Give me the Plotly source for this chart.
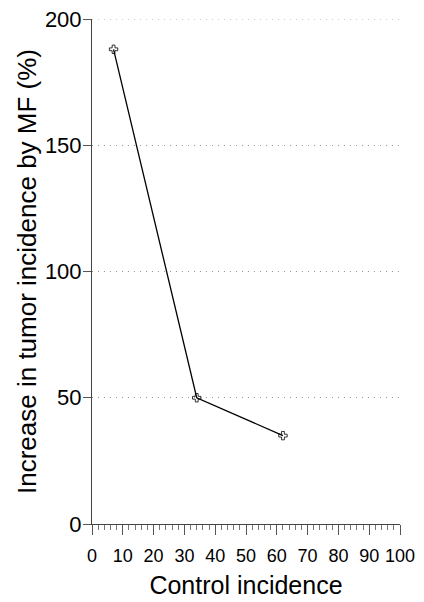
import plotly.graph_objects as go

control_incidence = [7, 34, 62]
increase_pct = [188, 50, 35]
x_ticks = [0, 10, 20, 30, 40, 50, 60, 70, 80, 90, 100]
y_ticks = [0, 50, 100, 150, 200]

fig = go.Figure()
fig.add_trace(go.Scatter(
    x=control_incidence, y=increase_pct, mode="lines+markers",
    line=dict(color="black", width=1.3),
    marker=dict(symbol="cross-open", size=7, color="black",
                line=dict(color="black", width=0.8)),
    showlegend=False,
))

# top dotted gridline (plotly hides the grid line at the range edge)
fig.add_shape(type="line", xref="x", yref="y", x0=0, x1=100,
              y0=y_ticks[-1], y1=y_ticks[-1],
              line=dict(color="#999", width=1, dash="1px,5px"), layer="below")

fig.update_layout(
    width=424, height=602,
    margin=dict(l=84, r=32, t=11, b=86),
    plot_bgcolor="white", paper_bgcolor="white",
    font=dict(family="Liberation Sans, Arial, sans-serif", color="black"),
)
fig.update_xaxes(
    range=[0, 100], tickvals=x_ticks, ticktext=[str(v) for v in x_ticks],
    ticks="outside", ticklen=10, tickwidth=1, tickcolor="#555",
    minor=dict(dtick=2, ticks="outside", ticklen=5, tickcolor="#777", tickwidth=1),
    showline=True, linecolor="#444", linewidth=1,
    showgrid=False, zeroline=False, automargin=False,
    tickfont=dict(size=18), ticklabelstandoff=5, ticklabeloverflow="allow",
    title=dict(text="Control incidence", font=dict(size=25), standoff=11),
)
fig.update_yaxes(
    range=[0, 200], tickvals=y_ticks,
    ticks="outside", ticklen=8, tickwidth=1, tickcolor="#555",
    showline=True, linecolor="#444", linewidth=1,
    showgrid=True, gridcolor="#999", griddash="1px,5px", gridwidth=1,
    zeroline=False, automargin=False,
    tickfont=dict(size=22), ticklabeloverflow="allow", ticklabelstandoff=-3,
    title=dict(text="Increase in tumor incidence by MF (%)", font=dict(size=26), standoff=0),
)
fig.write_html("out.html")
